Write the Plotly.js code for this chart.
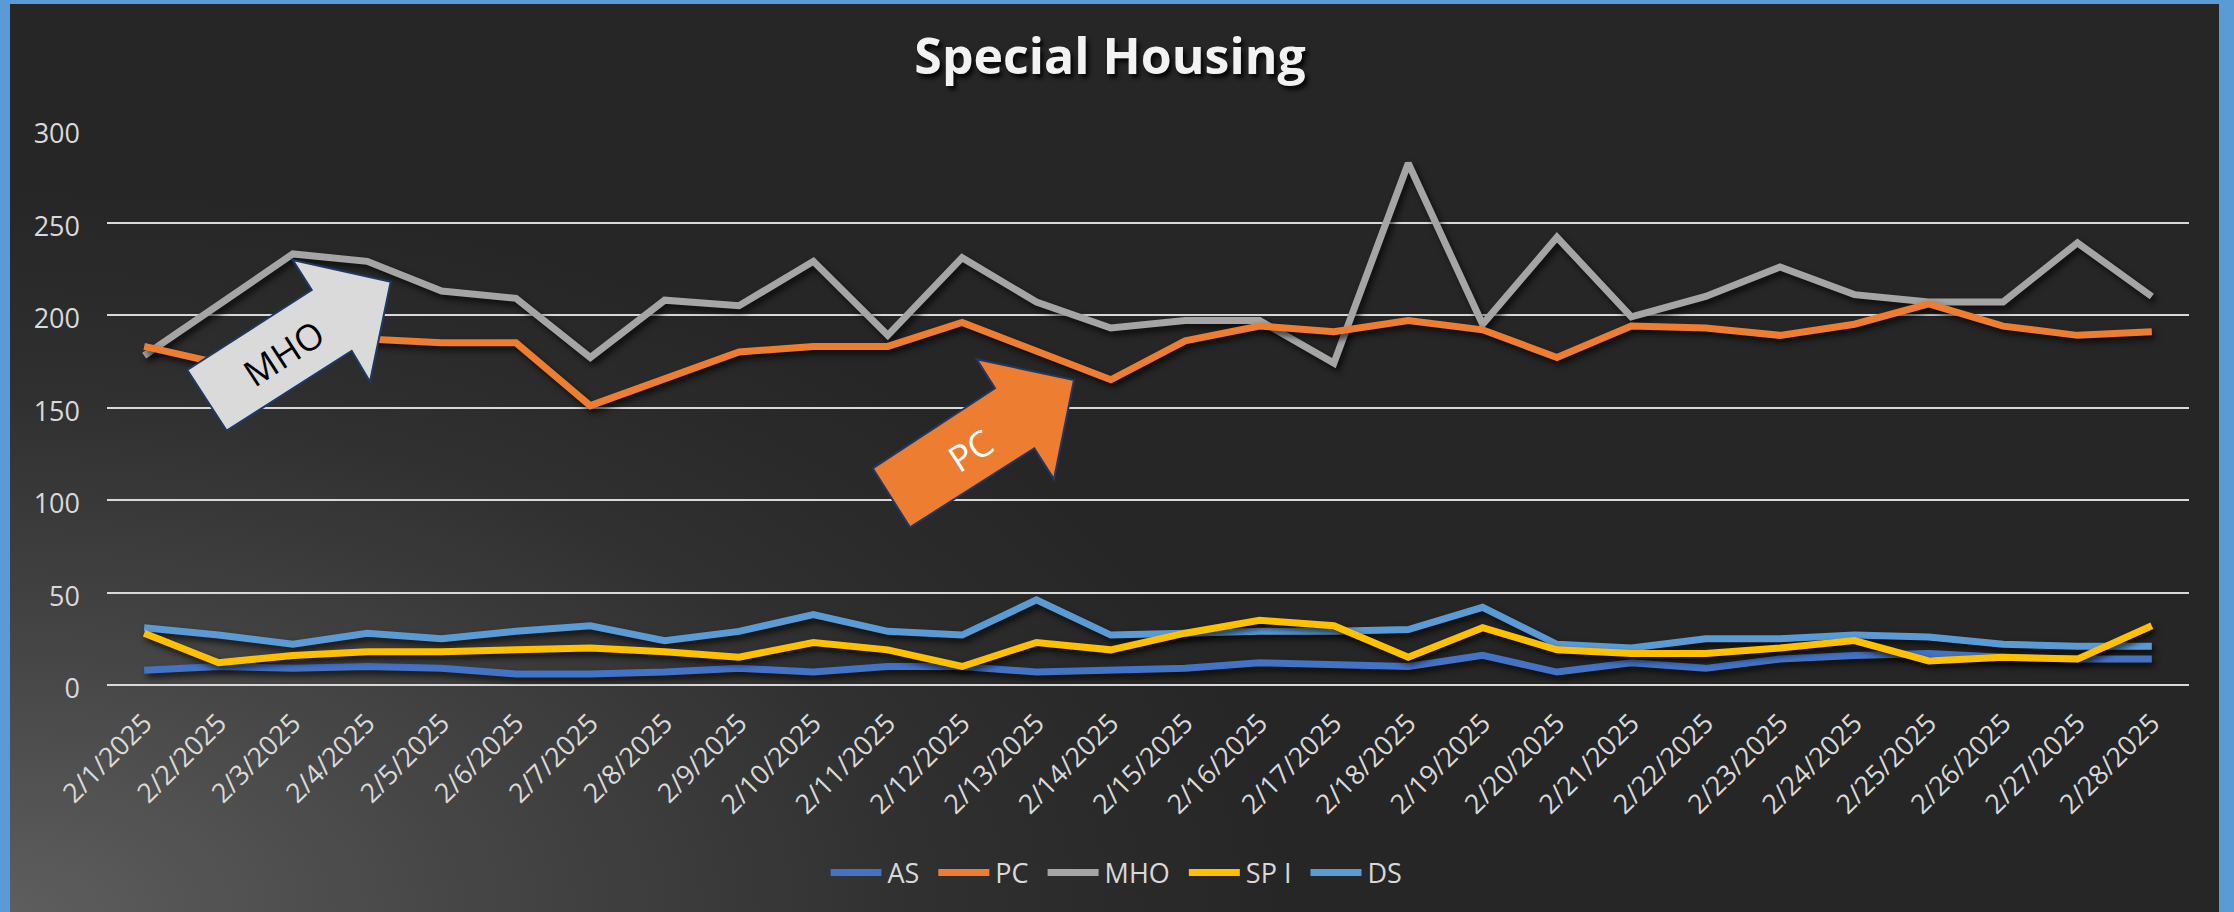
<!DOCTYPE html>
<html>
<head>
<meta charset="utf-8">
<script src="https://cdn.plot.ly/plotly-3.0.1.min.js"></script>
<style>
  html, body { margin: 0; padding: 0; background: #5B9BD5; }
  #frame {
    position: absolute; left: 0; top: 0; width: 2234px; height: 912px;
    background: #5B9BD5; overflow: hidden;
  }
  #chart {
    position: absolute; left: 10px; top: 4px; width: 2209px; height: 908px;
    background: radial-gradient(ellipse 1500px 850px at 0% 100%, #5e5e5e 0%, #464646 30%, #2f2f2f 62%, #262626 85%);
  }
  #chart .scatterlayer .trace path.js-line {
    filter: drop-shadow(3px 4px 3px rgba(0,0,0,0.7));
  }
</style>
</head>
<body>
<div id="frame"><div id="chart"></div></div>
<script>
// ---- data ----
const dates = ["2/1/2025","2/2/2025","2/3/2025","2/4/2025","2/5/2025","2/6/2025","2/7/2025",
  "2/8/2025","2/9/2025","2/10/2025","2/11/2025","2/12/2025","2/13/2025","2/14/2025",
  "2/15/2025","2/16/2025","2/17/2025","2/18/2025","2/19/2025","2/20/2025","2/21/2025",
  "2/22/2025","2/23/2025","2/24/2025","2/25/2025","2/26/2025","2/27/2025","2/28/2025"];
const AS  = [8, 10, 9, 10, 9, 6, 6, 7, 9, 7, 10, 10, 7, 8, 9, 12, 11, 10, 16, 7, 12, 9, 14, 16, 17, 15, 14, 14];
const PC  = [183, 174, 180, 187, 185, 185, 151, 166, 180, 183, 183, 196, 180, 165, 186, 194, 191, 197, 192, 177, 194, 193, 189, 195, 206, 194, 189, 191];
const MHO = [178, 206, 233, 229, 213, 209, 177, 208, 205, 229, 189, 231, 207, 193, 197, 197, 174, 282, 195, 242, 199, 210, 226, 211, 207, 207, 239, 210];
const SPI = [28, 12, 16, 18, 18, 19, 20, 18, 15, 23, 19, 10, 23, 19, 28, 35, 32, 15, 31, 19, 17, 17, 20, 24, 13, 15, 14, 32];
const DS  = [31, 27, 22, 28, 25, 29, 32, 24, 29, 38, 29, 27, 46, 27, 28, 29, 29, 30, 42, 22, 20, 25, 25, 27, 26, 22, 21, 21];
const seriesNames = ["AS", "PC", "MHO", "SP I", "DS"];
const yTicks = [0, 50, 100, 150, 200, 250, 300];

// ---- styles ----
const colors = {AS: "#4472C4", PC: "#ED7D31", MHO: "#A5A5A5", "SP I": "#FFC000", DS: "#5B9BD5"};
const FONT = "Open Sans, Noto Sans, DejaVu Sans, sans-serif";
const tickCol = "#d9d9d9";
const PAD = "\u00a0\u00a0";

function tr(name, y, rank) {
  const label = name === "DS" ? name : name + PAD;
  return {type: "scatter", mode: "lines", name: label, x: dates, y: y,
    line: {color: colors[name], width: 7}, legendrank: rank, hoverinfo: "skip"};
}
// drawing order (bottom to top)
const data = [
  tr("DS", DS, 5), tr("AS", AS, 1), tr("MHO", MHO, 3), tr("PC", PC, 2), tr("SP I", SPI, 4)
];

// helpers to convert full-image pixels to paper fractions (plot area 107..2189 x 130..685)
const PX0 = 107, PW = 2082, PY0 = 685, PH = 555;
const px = X => (X - PX0) / PW;
const py = Y => (PY0 - Y) / PH;
function poly(pts) {
  return pts.map((p, i) => (i ? "L" : "M") + px(p[0]).toFixed(5) + "," + py(p[1]).toFixed(5)).join(" ") + " Z";
}
const mhoArrow = [[390.7,281.7],[370,381.7],[351.7,351],[226.7,430.7],[187.3,370],[311.7,290],[292.7,260]];
const pcArrow  = [[1074,380],[1054,479.3],[1034.3,448.3],[910,527.3],[872.7,468.3],[995,388.3],[976.7,359.3]];

const layout = {
  width: 2209, height: 908,
  margin: {l: 97, r: 30, t: 126, b: 227},
  paper_bgcolor: "rgba(0,0,0,0)", plot_bgcolor: "rgba(0,0,0,0)",
  font: {family: FONT, color: tickCol, size: 28},
  title: {
    text: "<b>Special Housing</b>",
    font: {family: FONT, size: 50, color: "#f2f2f2", shadow: "3px 4px 4px rgba(0,0,0,0.85)"},
    xref: "container", x: 0.498, xanchor: "center",
    yref: "container", y: 0.942, yanchor: "middle"
  },
  xaxis: {
    type: "category", range: [-0.5, 27.5], showgrid: false, showline: false, zeroline: false,
    ticks: "", tickangle: -45, tickfont: {family: FONT, size: 27, color: tickCol},
    ticklabelstandoff: 16
  },
  yaxis: {
    range: [0, 300], tickvals: yTicks, showline: false, ticks: "",
    gridcolor: "#d9d9d9", gridwidth: 2, zeroline: true, zerolinecolor: "#d9d9d9", zerolinewidth: 2,
    tickfont: {family: FONT, size: 27, color: tickCol}, ticklabelstandoff: 26, ticklabelshift: 4
  },
  showlegend: true,
  legend: {
    orientation: "h", xref: "container", yref: "container",
    x: 0.502, xanchor: "center", y: 0.043, yanchor: "middle",
    font: {family: FONT, size: 27, color: tickCol}, itemwidth: 47, bgcolor: "rgba(0,0,0,0)",
    traceorder: "normal"
  },
  shapes: [
    {type: "path", xref: "paper", yref: "paper", path: poly(mhoArrow),
     fillcolor: "#DADADA", line: {color: "#1F3864", width: 2}},
    {type: "path", xref: "paper", yref: "paper", path: poly(pcArrow),
     fillcolor: "#ED7D31", line: {color: "#1F3864", width: 2}}
  ],
  annotations: [
    {xref: "paper", yref: "paper", x: px(283), y: py(353), xanchor: "center", yanchor: "middle",
     text: "MHO", showarrow: false, textangle: -33, font: {family: FONT, size: 36, color: "#000000"}},
    {xref: "paper", yref: "paper", x: px(970), y: py(450), xanchor: "center", yanchor: "middle",
     text: "PC", showarrow: false, textangle: -33, font: {family: FONT, size: 36, color: "#ffffff"}}
  ]
};

Plotly.newPlot("chart", data, layout, {staticPlot: true}).then(() => {
  document.querySelectorAll("#chart .legend .legendlines path").forEach(p => {
    p.setAttribute("d", "M0,0h51");
  });
});
</script>
</body>
</html>
